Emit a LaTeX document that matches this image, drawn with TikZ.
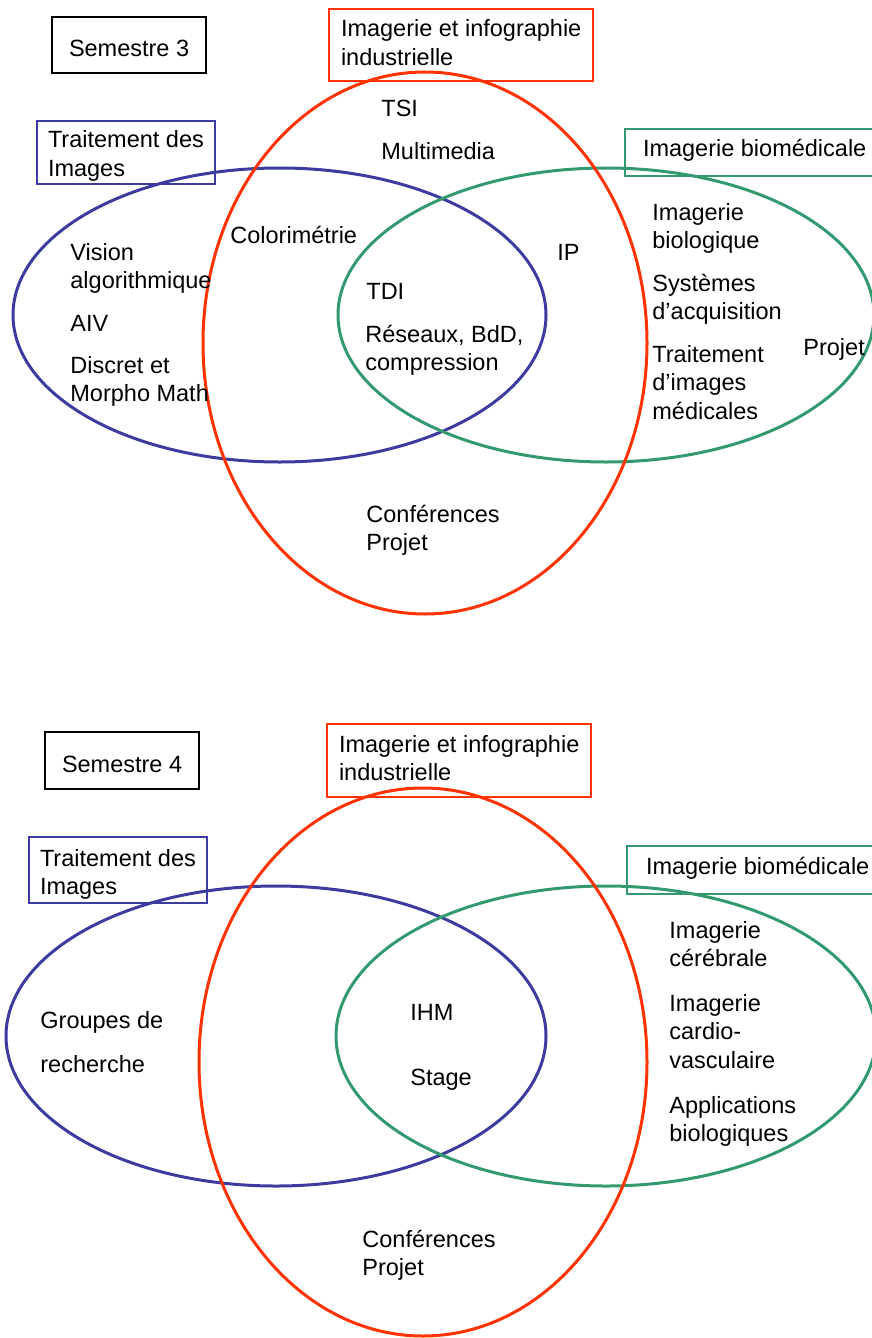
\documentclass[tikz,border=0pt]{standalone}
\usepackage{fontspec}
\setmainfont{Liberation Sans}
\definecolor{indred}{RGB}{255,51,0}
\definecolor{timblue}{RGB}{60,60,160}
\definecolor{biogreen}{RGB}{51,153,110}

\begin{document}
\begin{tikzpicture}[x=0.5pt, y=-0.5pt, every node/.style={font=\fontsize{11.75}{14.25}\selectfont, align=left, inner sep=0pt, anchor=base west}]
  \tikzstyle{ring}=[line width=1.5pt]
  \tikzstyle{titlebox}=[draw, line width=1pt, anchor=text, inner ysep=0pt]

\useasboundingbox (0,0) rectangle (872,1338);
\clip (0,0) rectangle (872,1338);

% ---------- semestre 3 ----------
\draw[ring, timblue] (279.5,315) ellipse [x radius=266.5, y radius=147];
\draw[ring, biogreen] (606,315) ellipse [x radius=268, y radius=147];
\draw[ring, indred] (425,343) ellipse [x radius=222, y radius=271];

\node [titlebox, inner xsep=8.5pt, text height=20pt, text depth=8pt] (sem3) at (69,57) {Semestre 3};
\node [titlebox, indred, text=black, inner xsep=6pt, text height=28.25pt, text depth=7.75pt] (ind3) at (341,65.5) {Imagerie et infographie\\industrielle};
\node [titlebox, timblue, text=black, inner xsep=5.5pt, text height=27.75pt, text depth=3.75pt] (ti3) at (48,176.5) {Traitement des\\Images};
\node [titlebox, biogreen, text=black, inner xsep=9pt, text height=13.5pt, text depth=10pt] (bio3) at (643,156) {Imagerie biomédicale};

% the last line of each text sits on the given point
\node (tsi) at (381,117) {TSI};
\node (multimedia) at (381,159) {Multimedia};
\node (colori) at (230,243) {Colorimétrie};
\node (ip) at (557,260) {IP};
\node (vision) at (70,288.5) {Vision\\algorithmique};
\node (aiv) at (70,331) {AIV};
\node (discret) at (70,401.5) {Discret et\\Morpho Math};
\node (tdi) at (366,299) {TDI};
\node (reseaux) at (365,370.5) {Réseaux, BdD,\\compression};
\node (imbio) at (652,248.5) {Imagerie\\biologique};
\node (sysacq) at (652,319.5) {Systèmes\\d’acquisition};
\node (traitmed) at (652,419) {Traitement\\d’images\\médicales};
\node (projet3) at (803,355) {Projet};
\node (conf3) at (366,550.5) {Conférences\\Projet};

% ---------- semestre 4 ----------
\draw[ring, timblue] (276,1036) ellipse [x radius=270, y radius=150];
\draw[ring, biogreen] (606,1036) ellipse [x radius=270, y radius=150];
\draw[ring, indred] (423,1062) ellipse [x radius=224, y radius=274];

\node [titlebox, inner xsep=8.5pt, text height=20pt, text depth=8.5pt] (sem4) at (62,772) {Semestre 4};
\node [titlebox, indred, text=black, inner xsep=6pt, text height=28.25pt, text depth=8.25pt] (ind4) at (339,780.5) {Imagerie et infographie\\industrielle};
\node [titlebox, timblue, text=black, inner xsep=5.5pt, text height=28.75pt, text depth=4.25pt] (ti4) at (40,894.5) {Traitement des\\Images};
\node [titlebox, biogreen, text=black, inner xsep=9.5pt, text height=14pt, text depth=10pt] (bio4) at (646,874) {Imagerie biomédicale};

\node (groupes) at (40,1072) {Groupes de\\[7.5pt]recherche};
\node (ihm) at (410,1020) {IHM};
\node (stage) at (410,1085) {Stage};
\node (imcer) at (669,966.5) {Imagerie\\cérébrale};
\node (imcardio) at (669,1068) {Imagerie\\cardio-\\vasculaire};
\node (applis) at (669,1141.5) {Applications\\biologiques};
\node (conf4) at (362,1275.5) {Conférences\\Projet};

\end{tikzpicture}
\end{document}
